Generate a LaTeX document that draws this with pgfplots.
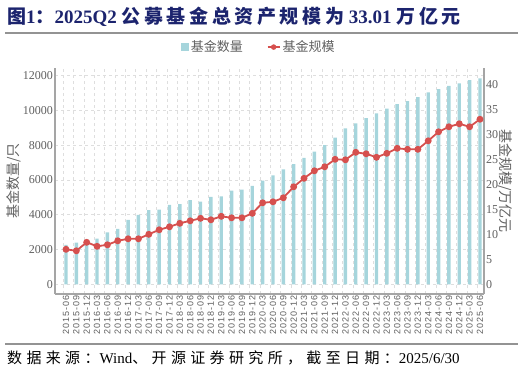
\documentclass[border=0pt]{standalone}
\usepackage{pgfplots}
\pgfplotsset{compat=1.18}
\usepackage{fontspec}
\setmainfont{Liberation Serif}
\newfontfamily\cjk{Noto Sans CJK SC}
\newfontfamily\cjkt[LetterSpace=19]{Noto Sans CJK SC}
\newfontfamily\cjkf[LetterSpace=29]{Noto Sans CJK SC}
\newfontfamily\arialx[LetterSpace=10]{Liberation Sans}
\definecolor{barc}{RGB}{166,213,220}
\definecolor{linec}{RGB}{214,80,78}
\definecolor{titlec}{RGB}{28,36,110}
\definecolor{txtc}{RGB}{95,95,95}
\definecolor{axc}{RGB}{165,165,165}
\definecolor{gridc}{RGB}{222,222,222}
\pgfplotstableread{
x n s
0 2260 7.0
1 2400 6.7
2 2480 8.4
3 2630 7.6
4 2990 7.9
5 3190 8.7
6 3710 9.1
7 3990 9.1
8 4260 10.0
9 4290 10.9
10 4570 11.5
11 4610 12.2
12 4840 12.7
13 4750 13.2
14 5020 12.9
15 5060 13.6
16 5380 13.3
17 5440 13.3
18 5650 14.2
19 5960 16.3
20 6260 16.5
21 6610 17.3
22 6910 19.5
23 7260 21.2
24 7620 22.7
25 8000 23.5
26 8430 25.0
27 8960 24.9
28 9250 26.4
29 9550 26.1
30 9830 25.4
31 10100 26.2
32 10360 27.2
33 10530 27.0
34 10760 27.0
35 11030 28.7
36 11220 30.5
37 11400 31.5
38 11550 32.1
39 11740 31.5
40 11840 33.01
}\datatable
\begin{document}
\begin{tikzpicture}
\useasboundingbox (0pt,0pt) rectangle (522pt,375pt);
\node[anchor=west, text=titlec, font=\fontsize{19}{19}\selectfont\bfseries, inner sep=0pt] at (7pt,358pt) {{\cjkt 图}1{\cjkt ：}2025Q2 {\cjkt 公募基金总资产规模为} 33.01 {\cjkt 万亿元}};
\draw[line width=1.3pt, color=gray!85] (5pt,342pt) -- (518pt,342pt);
\draw[line width=1.3pt, color=gray!85] (5pt,31pt) -- (518pt,31pt);
\node[anchor=west, text=black, font=\fontsize{15}{15}\selectfont, inner sep=0pt] at (7pt,17pt) {{\cjkf 数据来源：}Wind{\cjkf 、开源证券研究所，截至日期：}2025/6/30};
\begin{axis}[
  at={(55pt,81pt)}, anchor=south west,
  scale only axis, width=429pt, height=225.7pt,
  xmin=-1.063, xmax=40.39,
  ymin=-557, ymax=12414,
  axis x line*=bottom, axis y line*=left,
  axis line style={axc, line width=1.2pt},
  xtick={0,...,40},
  xticklabels={2015-06,2015-09,2015-12,2016-03,2016-06,2016-09,2016-12,2017-03,2017-06,2017-09,2017-12,2018-03,2018-06,2018-09,2018-12,2019-03,2019-06,2019-09,2019-12,2020-03,2020-06,2020-09,2020-12,2021-03,2021-06,2021-09,2021-12,2022-03,2022-06,2022-09,2022-12,2023-03,2023-06,2023-09,2023-12,2024-03,2024-06,2024-09,2024-12,2025-03,2025-06},
  xticklabel style={rotate=90, anchor=east, font=\arialx\fontsize{9}{9}\selectfont, text=txtc, inner sep=1.5pt},
  minor xtick={-0.26,0.74,...,39.74},
  xminorgrids, minor grid style={gridc, dashed, line width=0.6pt},
  ytick={0,2000,...,12000},
  scaled y ticks=false,
  ymajorgrids, major grid style={gridc, dashed, line width=0.6pt},
  major tick length=0pt, minor tick length=0pt,
  yticklabel style={font=\fontsize{12}{12}\selectfont, text=txtc, inner sep=2pt},
  /pgf/number format/assume math mode=true,
  /pgf/number format/set thousands separator={},
  ylabel={\cjk 基金数量/只},
  ylabel style={at={(axis description cs:-0.0956,0.5)}, anchor=center, font=\fontsize{14}{14}\selectfont, text=txtc},
  legend style={at={(axis description cs:0.4755,1.094)}, anchor=center, draw=none, fill=none, font=\cjk\fontsize{13}{13}\selectfont, text=txtc, legend columns=2, /tikz/every even column/.append style={column sep=22pt}},
]
\addplot[ybar, bar width=3.4pt, fill=barc, draw=none, forget plot] table[x=x, y=n] {\datatable};
\addlegendimage{legend image code/.code={\fill[barc] (2pt,-3.5pt) rectangle (9pt,3.5pt);}}
\addlegendentry{基金数量}
\addlegendimage{legend image code/.code={\draw[linec, line width=1.8pt] (0pt,0pt) -- (12pt,0pt); \fill[linec] (6pt,0pt) circle (2.5pt);}}
\addlegendentry{基金规模}
\end{axis}
\begin{axis}[
  at={(55pt,81pt)}, anchor=south west,
  scale only axis, width=429pt, height=225.7pt,
  xmin=-1.063, xmax=40.39,
  ymin=-1.94, ymax=43.2,
  axis x line=none, axis y line*=right,
  axis line style={axc, line width=1.2pt},
  ytick={0,5,...,40},
  major tick length=0pt,
  yticklabel style={font=\fontsize{12}{12}\selectfont, text=txtc, inner sep=2pt},
  /pgf/number format/assume math mode=true,
  ylabel={\cjk 基金规模/万亿元},
  ylabel style={at={(axis description cs:1.049,0.5)}, anchor=center, rotate=180, font=\fontsize{14}{14}\selectfont, text=txtc},
]
\addplot[linec, line width=1.8pt, mark=*, mark size=2.5pt, mark options={fill=linec, draw=linec}] table[x=x, y=s] {\datatable};
\end{axis}
\end{tikzpicture}
\end{document}
